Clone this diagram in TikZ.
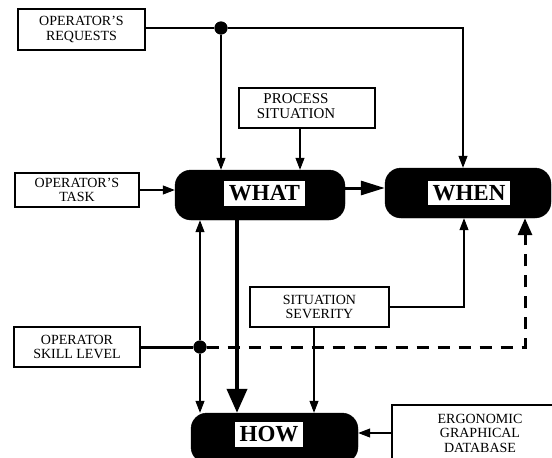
\documentclass[tikz,border=0pt]{standalone}
\usepackage{fontspec}
\setmainfont{Liberation Serif}
\usetikzlibrary{arrows.meta}

\tikzset{
  inbox/.style={draw, line width=1.1pt, rectangle, align=center, inner sep=2pt,
    font=\fontsize{14}{14.5}\selectfont},
  stage/.style={fill=black, draw=black, rounded corners=16pt, minimum height=50pt, inner sep=0pt},
  stagelbl/.style={fill=white, inner xsep=5pt, inner ysep=4.5pt,
    font=\fontsize{23}{25}\selectfont\bfseries},
  jdot/.style={circle, fill=black, inner sep=0pt, minimum size=13pt},
  feed/.style={line width=1.1pt, -{Triangle[length=12pt,width=9pt]}},
  plain/.style={line width=1.1pt},
  heavy/.style={line width=4pt, -{Triangle[length=24pt,width=20pt]}},
  heavyside/.style={line width=3pt, -{Triangle[length=24pt,width=14pt]}},
  optional/.style={line width=3pt, dash pattern=on 12pt off 9pt,
    -{Triangle[length=17pt,width=14pt]}}
}

\begin{document}
\begin{tikzpicture}[x=1pt,y=-1pt]
\useasboundingbox (0,0) rectangle (552,458);
\clip (0,0) rectangle (552,458);

% input boxes
\node[inbox, minimum width=127pt, minimum height=41pt] (req) at (81.5,29.5) {OPERATOR'S\\REQUESTS};
\node[inbox, minimum width=136pt, minimum height=40pt, font=\fontsize{15}{15.5}\selectfont] (proc) at (307,108)
  {\begin{tabular}{@{}c@{}}PROCESS\\SITUATION\end{tabular}\hspace*{22pt}};
\node[inbox, minimum width=124pt, minimum height=34pt] (task) at (77,190) {OPERATOR'S\\TASK};
\node[inbox, minimum width=126pt, minimum height=40pt] (skill) at (77,347) {OPERATOR\\SKILL LEVEL};
\node[inbox, minimum width=139pt, minimum height=40pt] (sev) at (319.5,307) {SITUATION\\SEVERITY};
\node[inbox, minimum width=176pt, minimum height=56pt] (erg) at (480,433) {ERGONOMIC\\GRAPHICAL\\DATABASE};

% decision stages
\node[stage, minimum width=170pt] (what) at (260,195) {};
\node[stage, minimum width=166pt] (when) at (468,193) {};
\node[stage, minimum width=167pt] (how) at (274.5,438) {};
\node[stagelbl] (whatlbl) at (264.5,193.5) {WHAT};
\node[stagelbl] (whenlbl) at (469,193) {WHEN};
\node[stagelbl] (howlbl) at (269,434.5) {HOW};

% junctions
\node[jdot] (jreq) at (221,28) {};
\node[jdot] (jskill) at (200,347) {};

% operator's requests
\draw[plain] (req.east |- jreq) -- (jreq);
\draw[feed] (jreq) -| ([xshift=-5pt]when.north);
\draw[feed] (jreq) -- (jreq |- what.north);

% process situation and task
\draw[feed] ([xshift=-7pt]proc.south) -- ([xshift=-7pt]proc.south |- what.north);
\draw[feed] (task.east) -- (task.east -| what.west);

% what -> when, what -> how
\draw[heavyside] ([yshift=7pt]what.east) -- ([yshift=7pt]what.east -| when.west);
\draw[heavy] ([xshift=-23pt]what.south) -- ([xshift=-23pt]what.south |- how.north);

% operator skill level
\draw[line width=3pt] (skill.east) -- (jskill);
\draw[feed] (jskill) -- (jskill |- what.south);
\draw[feed] (jskill) -- (jskill |- how.north);
\draw[optional] (jskill) -| ([xshift=57pt]when.south);

% situation severity
\draw[feed] (sev.east) -| ([xshift=-4pt]when.south);
\draw[feed] ([xshift=-5.5pt]sev.south) -- ([xshift=-5.5pt]sev.south |- how.north);

% graphical database
\draw[feed] (erg.west) -- (erg.west -| how.east);

% junction dots on top
\node[jdot] at (jreq) {};
\node[jdot] at (jskill) {};
\end{tikzpicture}
\end{document}
